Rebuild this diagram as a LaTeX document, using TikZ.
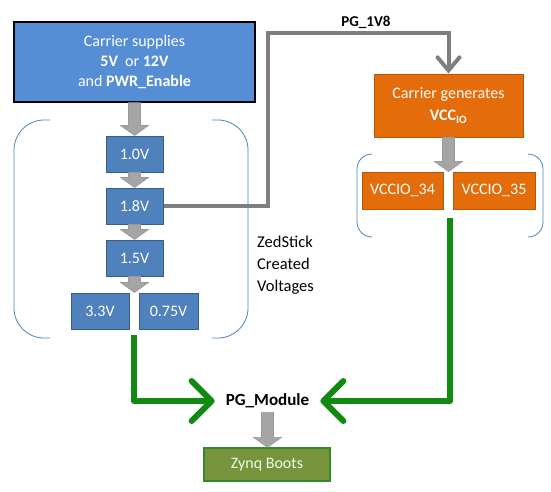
\documentclass[tikz,border=0pt]{standalone}
\usepackage{fontspec}
\setmainfont{Carlito}
\usetikzlibrary{arrows.meta,calc}
\definecolor{topblue}{HTML}{558ED5}
\definecolor{boxblue}{HTML}{4F81BD}
\definecolor{blueedge}{HTML}{385D8A}
\definecolor{orfill}{HTML}{E46C0A}
\definecolor{oredge}{HTML}{B65708}
\definecolor{zfill}{HTML}{77933C}
\definecolor{zedge}{HTML}{2E8B2E}
\definecolor{linegray}{HTML}{7F7F7F}
\definecolor{blockgray}{HTML}{A5A5A5}
\definecolor{grn}{HTML}{108A10}
\tikzset{
  x=1pt,y=-1pt,
  every node/.style={font=\fontsize{16}{20}\selectfont},
  bluebox/.style={draw=blueedge,line width=1pt,fill=boxblue,text=white,minimum width=57pt,minimum height=36pt,inner sep=0pt},
  orbox/.style={draw=oredge,line width=1pt,fill=orfill,text=white,minimum width=81pt,minimum height=37pt,inner sep=0pt},
  bracket/.style={draw=boxblue,line width=0.8pt,rounded corners=30pt},
  garrow/.style={draw=grn,line width=6pt,line join=round,-{Straight Barb[length=20pt,width=40pt,line cap=round,line join=round]}},
  pgline/.style={draw=linegray,line width=4pt,-{Straight Barb[length=13pt,width=22pt,line cap=round]}},
}
\newcommand{\barrow}[2]{%
  \path let \p1=(#1), \p2=(#2) in [draw=linegray!80,fill=blockgray,line width=0.6pt]
    (\x1-6pt,\y1) -- (\x1-6pt,\y2+10pt) -- (\x1-14pt,\y2+10pt) -- (\x1,\y2)
    -- (\x1+14pt,\y2+10pt) -- (\x1+6pt,\y2+10pt) -- (\x1+6pt,\y1) -- cycle;}
\begin{document}
\begin{tikzpicture}
\useasboundingbox (0,0) rectangle (551,491);
% top box
\node[draw=black,line width=1.2pt,fill=topblue,text=white,minimum width=241pt,minimum height=80pt,inner sep=0pt,align=center] (carrier) at (134.5,62)
  {Carrier supplies\\\textbf{5V}~~or \textbf{12V}\\and \textbf{PWR\_Enable}};
% voltage boxes
\node[bluebox] (v10) at (134.5,154) {1.0V};
\node[bluebox] (v18) at (134.5,206) {1.8V};
\node[bluebox] (v15) at (134.5,258) {1.5V};
\node[bluebox,minimum width=58pt] (v33) at (100,311) {3.3V};
\node[bluebox,minimum width=59pt] (v075) at (168.5,311) {0.75V};
\coordinate (vsplit) at ($(v33.north east)!0.5!(v075.north west)$);
% orange
\node[draw=oredge,line width=1pt,fill=orfill,text=white,minimum width=149pt,minimum height=63pt,inner sep=0pt,align=center,font=\fontsize{16}{22}\selectfont] (vccgen) at (448.5,105.5)
  {Carrier generates\\\textbf{VCC\textsubscript{IO}}};
\node[orbox] (io34) at (402.5,190.5) {VCCIO\_34};
\node[orbox,minimum width=82pt] (io35) at (494,190.5) {VCCIO\_35};
\coordinate (iosplit) at ($(io34.north east)!0.5!(io35.north west)$);
% brackets
\draw[bracket] (50,120) -- (14,120) -- (14,338) -- (50,338);
\draw[bracket] (212,120) -- (248,120) -- (248,338) -- (212,338);
\draw[bracket,rounded corners=15pt] (372,154) -- (357,154) -- (357,237) -- (372,237);
\draw[bracket,rounded corners=15pt] (528,154) -- (543,154) -- (543,237) -- (528,237);
% text
\node[anchor=west,align=left,inner sep=0pt,font=\fontsize{16.5}{22}\selectfont] (zed) at (257,265) {ZedStick\\Created\\Voltages};
% block arrows
\barrow{carrier.south}{v10.north}
\barrow{v10.south}{v18.north}
\barrow{v18.south}{v15.north}
\barrow{v15.south}{vsplit}
\barrow{vccgen.south}{iosplit}
% PG_1V8 line
\coordinate (c1) at (268,33);
\draw[pgline,line join=miter] (v18.east) -| (c1) -| (vccgen.north);
\node[font=\fontsize{15}{18}\selectfont\bfseries] (pglabel) at (366,22) {PG\_1V8};
% PG module
\node[font=\fontsize{17}{20}\selectfont\bfseries,inner xsep=11pt,inner ysep=4pt] (pgm) at (267.5,401) {PG\_Module};
\coordinate (gl) at (134,335);
\coordinate (gr) at (450,218);
\draw[garrow] (gl) |- (pgm.west);
\draw[garrow] (gr) |- (pgm.east);
% zynq
\node[draw=zedge,line width=1.2pt,fill=zfill,text=green!8!white,minimum width=126pt,minimum height=33pt,inner sep=0pt] (zynq) at (267,464.5) {Zynq Boots};
\barrow{pgm.south}{zynq.north}
\end{tikzpicture}
\end{document}
